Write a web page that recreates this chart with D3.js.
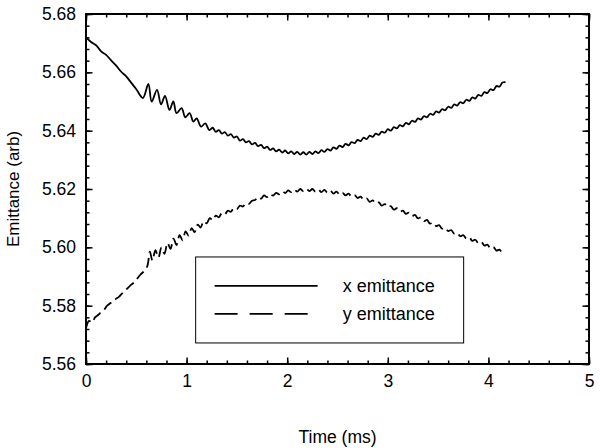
<!DOCTYPE html>
<html>
<head>
<meta charset="utf-8">
<script src="https://cdn.jsdelivr.net/npm/d3@7"></script>
<style>
  body { margin: 0; background: #fff; }
  text { font-family: Arial, "Liberation Sans", sans-serif; fill: #000; }
</style>
</head>
<body>
<div id="chart"></div>
<script>
// values (time in ms, emittance in arb units)
var xTime = [0, 0.05, 0.1, 0.15, 0.2, 0.25, 0.3, 0.35, 0.4, 0.45, 0.5, 0.566,
  0.62, 0.653, 0.706, 0.746, 0.785, 0.83, 0.868, 0.90, 0.95, 0.987, 1.03, 1.067, 1.10, 1.143, 1.186, 1.226,
  1.26, 1.29, 1.32, 1.35, 1.38, 1.41, 1.44, 1.47, 1.50,
  1.53, 1.56, 1.59, 1.62, 1.65, 1.68, 1.71, 1.74, 1.77, 1.80, 1.83, 1.86, 1.89, 1.92, 1.95, 1.98,
  2.01, 2.04, 2.07, 2.10, 2.13, 2.16, 2.19, 2.22, 2.25, 2.28, 2.31, 2.34, 2.37, 2.40, 2.43, 2.46, 2.49,
  2.52, 2.55, 2.58, 2.61, 2.64, 2.67, 2.70, 2.73, 2.76, 2.79, 2.82, 2.85, 2.88, 2.91, 2.94, 2.97,
  3.00, 3.03, 3.06, 3.09, 3.12, 3.15, 3.18, 3.21, 3.24, 3.27, 3.30, 3.33, 3.36, 3.39, 3.42, 3.45, 3.48,
  3.51, 3.54, 3.57, 3.60, 3.63, 3.66, 3.69, 3.72, 3.75, 3.78, 3.81, 3.84, 3.87, 3.90, 3.93, 3.96, 3.99,
  4.02, 4.05, 4.08, 4.11, 4.14, 4.17];
var xEmit = [5.6721, 5.6704, 5.6693, 5.6672, 5.6660, 5.6641, 5.6623, 5.6602, 5.6586, 5.6564, 5.6542, 5.6512,
  5.6560, 5.6500, 5.6540, 5.6490, 5.6519, 5.6471, 5.6500, 5.6460, 5.6477, 5.6446, 5.6460, 5.6431, 5.6442, 5.6414, 5.6425, 5.6402,
  5.6410, 5.6396, 5.6402, 5.6390, 5.6395, 5.6383, 5.6388, 5.6376, 5.6380,
  5.6366, 5.6371, 5.6360, 5.6364, 5.6353, 5.6358, 5.6347, 5.6351, 5.6340, 5.6345, 5.6334, 5.6339, 5.6329, 5.6335, 5.6325, 5.6332,
  5.6322, 5.6329, 5.6320, 5.6327, 5.6318, 5.6326, 5.6318, 5.6327, 5.6320, 5.6329, 5.6323, 5.6333, 5.6327, 5.6337, 5.6332, 5.6343, 5.6338,
  5.6349, 5.6344, 5.6355, 5.6350, 5.6361, 5.6357, 5.6368, 5.6364, 5.6376, 5.6371, 5.6383, 5.6379, 5.6390, 5.6386, 5.6397, 5.6393,
  5.6405, 5.6400, 5.6412, 5.6408, 5.6419, 5.6415, 5.6427, 5.6422, 5.6434, 5.6430, 5.6442, 5.6438, 5.6450, 5.6446, 5.6458, 5.6454, 5.6466,
  5.6462, 5.6474, 5.6470, 5.6482, 5.6478, 5.6490, 5.6486, 5.6498, 5.6494, 5.6506, 5.6502, 5.6514, 5.6510, 5.6523, 5.6519, 5.6532, 5.6529,
  5.6542, 5.6539, 5.6553, 5.6551, 5.6565, 5.6566];

var yTime = [0, 0.03, 0.06, 0.09, 0.12, 0.15, 0.18, 0.21, 0.24, 0.27, 0.30, 0.33, 0.36, 0.39, 0.42, 0.45, 0.48, 0.51, 0.54, 0.58, 0.61,
  0.635, 0.66, 0.69, 0.72, 0.75, 0.78, 0.81, 0.84, 0.87, 0.90, 0.93, 0.96, 0.99, 1.02, 1.05, 1.08, 1.11, 1.14, 1.17, 1.20,
  1.23, 1.26, 1.29, 1.32, 1.35, 1.38, 1.41, 1.44, 1.47, 1.50, 1.53, 1.56, 1.59, 1.62, 1.65,
  1.68, 1.71, 1.74, 1.77, 1.80, 1.83, 1.86, 1.89, 1.92, 1.95, 1.98, 2.01, 2.04, 2.07, 2.10, 2.13, 2.16, 2.19, 2.22, 2.25,
  2.28, 2.31, 2.34, 2.37, 2.40, 2.43, 2.46, 2.49, 2.52, 2.55, 2.58, 2.61, 2.64, 2.67, 2.70, 2.73, 2.76, 2.79, 2.82, 2.85,
  2.88, 2.91, 2.94, 2.97, 3.00, 3.03, 3.06, 3.09, 3.12, 3.15, 3.18, 3.21, 3.24, 3.27, 3.30, 3.33, 3.36, 3.39, 3.42, 3.45,
  3.48, 3.51, 3.54, 3.57, 3.60, 3.63, 3.66, 3.69, 3.72, 3.75, 3.78, 3.81, 3.84, 3.87, 3.90, 3.93, 3.96, 3.99, 4.02, 4.05,
  4.08, 4.11, 4.14, 4.165];
var yEmit = [5.5722, 5.5748, 5.5742, 5.5760, 5.5768, 5.5778, 5.5786, 5.5800, 5.5808, 5.5814, 5.5824, 5.5831, 5.5842, 5.5852, 5.5862, 5.5872, 5.5880, 5.5893, 5.5906, 5.5920, 5.5936,
  5.5985, 5.5955, 5.5990, 5.5965, 5.6000, 5.5978, 5.6015, 5.5995, 5.6030, 5.6008, 5.6042, 5.6024, 5.6055, 5.6040, 5.6066, 5.6052, 5.6078, 5.6068, 5.6090, 5.6082,
  5.6100, 5.6093, 5.6109, 5.6103, 5.6117, 5.6113, 5.6126, 5.6122, 5.6135, 5.6131, 5.6143, 5.6140, 5.6152, 5.6149, 5.6160,
  5.6162, 5.6173, 5.6167, 5.6178, 5.6172, 5.6183, 5.6177, 5.6187, 5.6182, 5.6192, 5.6186, 5.6195, 5.6189, 5.6198, 5.6191, 5.6200, 5.6193, 5.6201, 5.6193, 5.6200,
  5.6191, 5.6198, 5.6189, 5.6197, 5.6187, 5.6194, 5.6184, 5.6191, 5.6181, 5.6187, 5.6178, 5.6184, 5.6174, 5.6179, 5.6169, 5.6174, 5.6163, 5.6168, 5.6156, 5.6161,
  5.6150, 5.6154, 5.6143, 5.6148, 5.6137, 5.6141, 5.6129, 5.6134, 5.6122, 5.6126, 5.6115, 5.6119, 5.6107, 5.6111, 5.6099, 5.6103, 5.6090, 5.6094, 5.6081, 5.6085,
  5.6073, 5.6076, 5.6064, 5.6068, 5.6056, 5.6059, 5.6047, 5.6050, 5.6038, 5.6042, 5.6030, 5.6034, 5.6022, 5.6026, 5.6014, 5.6018, 5.6006, 5.6009, 5.5997, 5.6001,
  5.5989, 5.5992, 5.5980, 5.5977];

var xTicks = [0, 1, 2, 3, 4, 5];
var yTicks = [5.56, 5.58, 5.60, 5.62, 5.64, 5.66, 5.68];
var seriesNames = ["x emittance", "y emittance"];

var width = 600, height = 448;
var margin = {top: 14, right: 11, bottom: 84, left: 86};
var w = width - margin.left - margin.right,
    h = height - margin.top - margin.bottom;

var svg = d3.select("#chart")
  .append("svg")
    .attr("width", width)
    .attr("height", height)
  .append("g")
    .attr("transform", "translate(" + margin.left + "," + margin.top + ")");

var x = d3.scaleLinear().domain([0, 5]).range([0, w]);
var y = d3.scaleLinear().domain([5.56, 5.68]).range([h, 0]);

var xMinor = d3.range(0, 5.0001, 0.2);
var yMinor = d3.range(5.56, 5.6801, 0.004);

function styleAxis(g) {
  g.select(".domain").remove();
  g.selectAll("line").attr("stroke", "#000").attr("stroke-width", 1.5);
  g.selectAll("text").style("font-size", "17.5px").attr("fill", "#000");
}

// minor ticks, all four sides
svg.append("g").attr("transform", "translate(0," + h + ")")
  .call(d3.axisBottom(x).tickValues(xMinor).tickSize(-3.5).tickFormat("")).call(styleAxis);
svg.append("g")
  .call(d3.axisTop(x).tickValues(xMinor).tickSize(-3.5).tickFormat("")).call(styleAxis);
svg.append("g")
  .call(d3.axisLeft(y).tickValues(yMinor).tickSize(-3.5).tickFormat("")).call(styleAxis);
svg.append("g").attr("transform", "translate(" + w + ",0)")
  .call(d3.axisRight(y).tickValues(yMinor).tickSize(-3.5).tickFormat("")).call(styleAxis);

// major ticks + labels
svg.append("g").attr("transform", "translate(0," + h + ")")
  .call(d3.axisBottom(x).tickValues(xTicks).tickSize(-6.5).tickPadding(11).tickFormat(d3.format("d")))
  .call(styleAxis);
svg.append("g")
  .call(d3.axisTop(x).tickValues(xTicks).tickSize(-6.5).tickFormat("")).call(styleAxis);
svg.append("g")
  .call(d3.axisLeft(y).tickValues(yTicks).tickSize(-6.5).tickPadding(10).tickFormat(d3.format(".2f")))
  .call(styleAxis);
svg.append("g").attr("transform", "translate(" + w + ",0)")
  .call(d3.axisRight(y).tickValues(yTicks).tickSize(-6.5).tickFormat("")).call(styleAxis);

// frame
svg.append("rect")
  .attr("width", w)
  .attr("height", h)
  .attr("fill", "none")
  .attr("stroke", "#000")
  .attr("stroke-width", 2);

var line = d3.line()
  .curve(d3.curveCatmullRom)
  .x(function(d) { return x(d[0]); })
  .y(function(d) { return y(d[1]); });

svg.append("path")
  .datum(d3.zip(xTime, xEmit))
  .attr("d", line)
  .attr("fill", "none")
  .attr("stroke", "#000")
  .attr("stroke-width", 1.8)
  .attr("stroke-linejoin", "round");

svg.append("path")
  .datum(d3.zip(yTime, yEmit))
  .attr("d", line)
  .attr("fill", "none")
  .attr("stroke", "#000")
  .attr("stroke-width", 1.8)
  .attr("stroke-dasharray", "10,5")
  .attr("stroke-linejoin", "round");

// legend
var legend = svg.append("g").attr("transform", "translate(" + (x(1.09)) + "," + (y(5.5967)) + ")");
legend.append("rect")
  .attr("width", 268)
  .attr("height", 86)
  .attr("fill", "#fff")
  .attr("stroke", "#000")
  .attr("stroke-width", 1);
legend.selectAll("line")
  .data(seriesNames)
  .enter().append("line")
    .attr("x1", 19).attr("x2", 122)
    .attr("y1", function(d, i) { return 29 + i * 28; })
    .attr("y2", function(d, i) { return 29 + i * 28; })
    .attr("stroke", "#000")
    .attr("stroke-width", 1.8)
    .attr("stroke-dasharray", function(d, i) { return i ? "23,12" : null; });
legend.selectAll("text")
  .data(seriesNames)
  .enter().append("text")
    .attr("x", 147)
    .attr("y", function(d, i) { return 35 + i * 28; })
    .style("font-size", "18px")
    .text(function(d) { return d; });

// axis titles
svg.append("text")
  .attr("x", w / 2)
  .attr("y", h + 79)
  .attr("text-anchor", "middle")
  .style("font-size", "17.5px")
  .text("Time (ms)");

svg.append("text")
  .attr("transform", "translate(" + (-67) + "," + (h / 2) + ") rotate(-90)")
  .attr("text-anchor", "middle")
  .style("font-size", "17px")
  .text("Emittance (arb)");
</script>
</body>
</html>
